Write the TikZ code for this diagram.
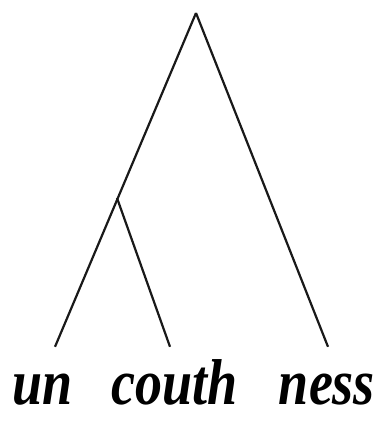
\documentclass[tikz,border=0pt]{standalone}
\usepackage{fontspec}
\setmainfont{Liberation Serif}
\usetikzlibrary{positioning,calc}

\begin{document}
\begin{tikzpicture}[
  x=1pt, y=1pt,
  branch/.style={line width=2.2pt, draw=black!90},
  leaf/.style={anchor=base, inner sep=4pt, text height=54pt,
               font=\fontsize{54}{60}\selectfont\bfseries\itshape},
]
\useasboundingbox (0,0) rectangle (383,422);

\coordinate (root) at (196,409);
\coordinate (mid)  at (117,224);

\node[leaf] (un)    at (43,17)  {\scalebox{1}[1.2]{un}};
\node[leaf] (couth) at (175,17) {\scalebox{1}[1.2]{couth}};
\node[leaf] (ness)  at (327,17) {\scalebox{1}[1.2]{ness}};

\draw[branch] (root) -- ([xshift=12pt]un.north);
\draw[branch] (mid) -- ([xshift=-5pt]couth.north);
\draw[branch] (root) -- ([xshift=1pt]ness.north);

\end{tikzpicture}
\end{document}
